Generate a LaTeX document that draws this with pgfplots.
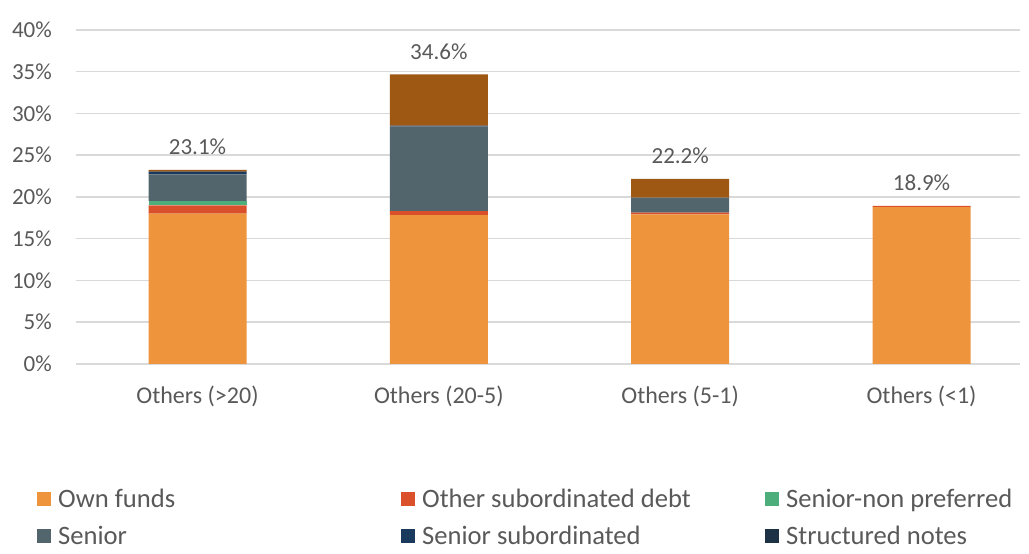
\documentclass[border=0pt]{standalone}
\usepackage{pgfplots}
\pgfplotsset{compat=1.18}
\usepackage{fontspec}
\setmainfont{Carlito}
\definecolor{cOwn}{RGB}{237,148,61}
\definecolor{cOsd}{RGB}{217,80,43}
\definecolor{cSnp}{RGB}{76,174,122}
\definecolor{cSen}{RGB}{82,101,108}
\definecolor{cSsub}{RGB}{25,58,92}
\definecolor{cStr}{RGB}{30,50,70}
\definecolor{cOth}{RGB}{159,88,20}
\definecolor{cTxt}{RGB}{89,89,89}
\definecolor{cGrid}{RGB}{217,217,217}
\pgfplotsset{
  common/.style={
    at={(76pt,190pt)}, anchor=south west,
    scale only axis, width=944pt, height=334pt,
    xmin=-0.5035, xmax=3.408, ymin=0, ymax=40,
  }
}
\begin{document}
\begin{tikzpicture}[x=1pt,y=1pt]
\path[use as bounding box] (0,0) rectangle (1029,554);
\begin{axis}[
  common,
  ybar stacked, bar width=98pt,
  ytick={0,5,...,40},
  yticklabel={\pgfmathprintnumber{\tick}\%},
  /pgf/number format/assume math mode=true,
  xtick={0,1,2,3},
  xticklabels={Others (>20),Others (20-5),Others (5-1),Others (<1)},
  ymajorgrids, grid style={cGrid, line width=1.5pt},
  axis line style={draw=none},
  major tick length=0pt,
  yticklabel style={anchor=east, inner sep=0pt, xshift=-24pt, font=\fontsize{23}{27}\selectfont, text=cTxt},
  xticklabel style={anchor=north, inner sep=0pt, yshift=-22pt, font=\fontsize{24}{28}\selectfont, text=cTxt},
  legend columns=3,
  legend style={at={(-0.0413,-0.374)}, anchor=north west, draw=none, fill=none,
    inner sep=0pt, nodes={inner sep=0pt}, column sep=0pt, row sep=17pt,
    font=\fontsize{26.6}{30}\selectfont, text=cTxt},
  legend cell align=left,
  legend image code/.code={\fill[#1] (0pt,-7pt) rectangle (14pt,7pt);},
  legend entries={
    \makebox[350pt][l]{\hspace{7pt}Own funds},
    \makebox[350pt][l]{\hspace{7pt}Other subordinated debt},
    \makebox[250pt][l]{\hspace{7pt}Senior-non preferred},
    \makebox[350pt][l]{\hspace{7pt}Senior},
    \makebox[350pt][l]{\hspace{7pt}Senior subordinated},
    \makebox[250pt][l]{\hspace{7pt}Structured notes}},
]
\addplot[fill=cOwn, draw=none] coordinates {(0,18.0) (1,17.84) (2,17.93) (3,18.8)};
\addplot[fill=cOsd, draw=none] coordinates {(0,1.0) (1,0.48) (2,0.19) (3,0.15)};
\addplot[fill=cSnp, draw=none] coordinates {(0,0.5) (1,0) (2,0) (3,0)};
\addplot[fill=cSen, draw=none] coordinates {(0,3.2) (1,10.1) (2,1.8) (3,0)};
\addplot[fill=cSsub, draw=none] coordinates {(0,0.3) (1,0.03) (2,0) (3,0)};
\addplot[fill=cStr, draw=none] coordinates {(0,0.04) (1,0.1) (2,0) (3,0)};
\addplot[fill=cOth, draw=none] coordinates {(0,0.2) (1,6.15) (2,2.24) (3,0)};
\end{axis}
\begin{axis}[
  common, hide axis, clip=false,
]
\addplot[draw=none, mark=none,
  point meta=explicit symbolic,
  nodes near coords,
  nodes near coords style={anchor=base, inner sep=0pt, yshift=15pt, font=\fontsize{23}{27}\selectfont, text=cTxt}]
  coordinates {(0,23.24) [23.1\%] (1,34.70) [34.6\%] (2,22.16) [22.2\%] (3,18.95) [18.9\%]};
\end{axis}
\end{tikzpicture}
\end{document}
